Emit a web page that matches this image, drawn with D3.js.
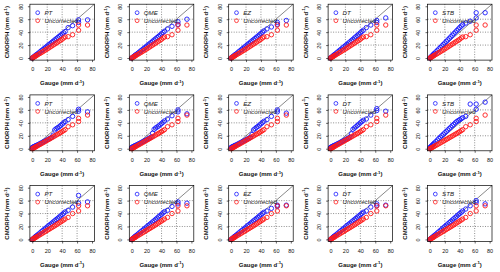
<!DOCTYPE html>
<html>
<head>
<meta charset="utf-8">
<script src="https://cdn.jsdelivr.net/npm/d3@7"></script>
<style>
body { margin: 0; background: #fff; }
text { font-family: "Liberation Sans", Arial, sans-serif; }
</style>
</head>
<body>
<svg id="chart" width="500" height="272"></svg>
<script>
const methods = ['PT', 'QME', 'EZ', 'DT', 'STB'];
const ticks = [0, 20, 40, 60, 80];

// gauge quantiles (x), shared by every panel
const gauge = [0, 1, 2, 3, 4, 5, 6, 8, 10, 12, 14, 16, 18, 20, 22, 24, 26, 28, 30, 32, 34, 36, 38, 40, 42, 44, 48, 54, 62, 62, 74];

// CMORPH quantiles before correction, one array per row
const uncorrected = [
    [0, 0.6, 1.3, 2, 2.7, 3.4, 4.1, 5.5, 6.9, 8.3, 9.7, 11.2, 12.6, 14, 15.5, 17, 18.5, 20, 21.5, 23, 24.5, 26, 27.5, 29, 31, 32.5, 33, 36, 43, 51, 51],
    [0, 0.6, 1.2, 1.9, 2.5, 3.2, 3.8, 5.1, 6.4, 7.7, 9, 10.3, 11.6, 13, 14.3, 15.6, 17, 18.3, 19.6, 21, 22.3, 23.6, 25, 26.5, 28, 29.5, 34, 37, 42, 47, 52],
    [0, 0.7, 1.4, 2.1, 2.8, 3.5, 4.2, 5.6, 7, 8.4, 9.8, 11.2, 12.6, 14, 15.4, 16.8, 18.2, 19.6, 21, 22.5, 24, 25.5, 27, 28.5, 30, 31.5, 34, 40, 44, 52, 52]
];

// CMORPH quantiles after correction, per row, in the order of methods
const corrected = [
    [
        [0, 0.9, 1.9, 2.8, 3.7, 4.6, 5.6, 7.4, 9.3, 11.2, 13, 14.9, 16.7, 18.6, 20.5, 22.3, 24.2, 26, 28, 29.8, 31.6, 33.5, 35.4, 37.2, 39, 41, 47, 50, 55, 59, 59],
        [0, 0.9, 1.8, 2.7, 3.6, 4.5, 5.5, 7.3, 9.1, 11, 12.8, 14.7, 16.5, 18.4, 20.3, 22.2, 24, 26, 27.9, 29.8, 31.7, 33.6, 35.5, 37.5, 39.5, 41.5, 45, 49, 52, 56, 60],
        [0, 0.9, 1.9, 2.8, 3.8, 4.7, 5.7, 7.6, 9.5, 11.4, 13.3, 15.2, 17, 18.9, 20.8, 22.7, 24.6, 26.5, 28.4, 30.3, 32.2, 34, 36, 38, 40, 42, 45, 48, 52, 55, 58],
        [0, 1, 2, 3, 3.9, 4.9, 5.9, 7.8, 9.8, 11.7, 13.6, 15.5, 17.4, 19.3, 21.2, 23.1, 25, 27, 29, 31, 33, 35, 37, 39, 41, 43, 47, 51, 55, 58, 62],
        [0, 1.2, 2.4, 3.6, 4.8, 6, 7.2, 9.5, 11.8, 14.1, 16.4, 18.7, 21, 23.3, 25.7, 28, 30.4, 32.8, 35.2, 37.6, 40, 42.4, 44.8, 47.2, 49.5, 51.5, 54, 57, 62, 70, 70]
    ],
    [
        [2, 2.5, 3, 3.6, 4.2, 4.8, 5.4, 6.6, 7.8, 9, 10.2, 11.4, 12.6, 13.8, 15, 16.2, 17.5, 21, 29, 31, 32.5, 34, 36, 38, 40, 42, 45, 50, 58, 61, 57],
        [2, 2.6, 3.2, 3.8, 4.4, 5, 5.6, 6.8, 8, 9.2, 10.4, 11.6, 12.8, 14, 15.3, 16.6, 18, 24, 30, 32, 33.5, 35, 37, 39, 41, 43, 46, 51, 57, 60, 54],
        [2, 2.5, 3.1, 3.7, 4.3, 4.9, 5.5, 6.7, 7.9, 9.1, 10.3, 11.5, 12.7, 13.9, 15.1, 16.4, 17.7, 22, 29, 31, 33, 34.5, 36.5, 38.5, 40.5, 42.5, 45, 50, 57, 60, 55],
        [2, 2.6, 3.2, 3.8, 4.4, 5, 5.6, 6.8, 8, 9.2, 10.4, 11.6, 12.8, 14, 15.3, 16.6, 18, 23, 30, 32, 34, 36, 38, 40, 42, 44, 46, 52, 59, 62, 58],
        [2, 3, 4, 5.2, 6.4, 7.6, 8.8, 11, 13.4, 15.8, 18, 20.2, 22.4, 24.6, 26.8, 29, 31.2, 33.4, 35.6, 37.8, 40, 42, 43.5, 45, 46.5, 48, 50, 69, 61, 69, 72]
    ],
    [
        [0, 1, 2, 3, 4, 5, 6, 7.9, 9.8, 11.8, 13.7, 15.6, 17.5, 19.4, 21.3, 23.2, 25.1, 27, 28.9, 30.8, 32.7, 34.6, 36.5, 38.5, 40.5, 42.5, 45, 50, 56, 68, 58],
        [0, 1, 2, 3, 4, 5, 6, 8, 9.9, 11.8, 13.7, 15.6, 17.5, 19.4, 21.3, 23.2, 25.1, 27, 29, 31, 33, 35, 37, 39, 41, 43, 45, 51, 55, 58, 56],
        [0, 0.9, 1.9, 2.9, 3.9, 4.9, 5.8, 7.8, 9.7, 11.6, 13.5, 15.4, 17.3, 19.2, 21.1, 23, 24.9, 26.8, 28.7, 30.6, 32.5, 34.4, 36.3, 38.2, 40.1, 42, 44, 48, 51, 53, 53],
        [0, 1, 2, 3, 4, 5, 6, 7.9, 9.8, 11.7, 13.6, 15.5, 17.4, 19.3, 21.2, 23.1, 25, 26.9, 28.8, 30.7, 32.6, 34.5, 36.4, 38.3, 40.2, 42.1, 44, 50, 52, 55, 53],
        [0, 1, 2, 3, 4, 5, 6, 8, 10, 12, 14, 16, 18, 20, 22, 24, 26, 28, 30, 32, 34, 36, 38, 40, 42, 44, 47, 52, 57, 60, 55]
    ]
];

const svg = d3.select('#chart');
const colPitch = 99.4;
const rowPitch = 90.7;

function unitLabel(sel, name) {
    sel.text(`${name} (mm d`);
    sel.append('tspan').attr('dy', -2.2).style('font-size', '4.3px').text('-1');
    sel.append('tspan').attr('dy', 2.2).text(')');
}

function drawPanel(r, c) {
    const x = d3.scaleLinear().domain([-3.2, 83.2])
        .range([29.9 + c * colPitch, 94.4 + c * colPitch]);
    const y = d3.scaleLinear().domain([-3.2, 83.2])
        .range([60.1 + r * rowPitch, 4.2 + r * rowPitch]);
    const [x0, x1] = x.range();
    const [y0, y1] = y.range();
    const g = svg.append('g');

    // dotted grid
    g.selectAll('.gx').data(ticks.slice(1, 4)).enter().append('line')
        .attr('x1', d => x(d)).attr('x2', d => x(d))
        .attr('y1', y0).attr('y2', y1)
        .attr('stroke', '#444').attr('stroke-width', 0.6).attr('stroke-dasharray', '1,1.5');
    g.selectAll('.gy').data(ticks.slice(1, 4)).enter().append('line')
        .attr('y1', d => y(d)).attr('y2', d => y(d))
        .attr('x1', x0).attr('x2', x1)
        .attr('stroke', '#444').attr('stroke-width', 0.6).attr('stroke-dasharray', '1,1.5');

    // 1:1 line
    g.append('line')
        .attr('x1', x(-3.2)).attr('y1', y(-3.2))
        .attr('x2', x(83.2)).attr('y2', y(83.2))
        .attr('stroke', '#555').attr('stroke-width', 0.7);

    const pts = (vals, colour) => {
        g.append('g').selectAll('circle').data(vals).enter().append('circle')
            .attr('cx', (d, i) => x(gauge[i]))
            .attr('cy', d => y(d))
            .attr('r', 2.2)
            .attr('fill', 'none')
            .attr('stroke', colour)
            .attr('stroke-width', 0.9);
    };
    pts(corrected[r][c], '#1a1aff');
    pts(uncorrected[r], '#ff1a1a');

    // box
    g.append('rect')
        .attr('x', x0).attr('y', y1)
        .attr('width', x1 - x0).attr('height', y0 - y1)
        .attr('fill', 'none').attr('stroke', '#000').attr('stroke-width', 0.7);

    // axes
    const xAxis = g.append('g')
        .attr('transform', `translate(0,${y0})`)
        .call(d3.axisBottom(x).tickValues(ticks).tickSize(2).tickPadding(5.5));
    const yAxis = g.append('g')
        .attr('transform', `translate(${x0},0)`)
        .call(d3.axisLeft(y).tickValues(ticks).tickSize(2));
    [xAxis, yAxis].forEach(a => {
        a.select('.domain').remove();
        a.selectAll('line').attr('stroke-width', 0.6);
        a.selectAll('text').style('font-size', '5.5px').attr('fill', '#111');
    });
    yAxis.selectAll('text')
        .attr('transform', 'rotate(-90)')
        .attr('x', 0).attr('y', -7.2).attr('dy', 0)
        .attr('text-anchor', 'middle');

    // axis titles
    g.append('text')
        .attr('x', (x0 + x1) / 2).attr('y', y0 + 25)
        .attr('text-anchor', 'middle')
        .style('font-size', '6px').style('font-weight', 'bold').attr('fill', '#111')
        .call(unitLabel, 'Gauge');
    g.append('text')
        .attr('transform', `translate(${x0 - 20.5},${(y0 + y1) / 2}) rotate(-90)`)
        .attr('text-anchor', 'middle')
        .style('font-size', '6px').style('font-weight', 'bold').attr('fill', '#111')
        .call(unitLabel, 'CMORPH');

    // legend
    const legend = [[methods[c], '#1a1aff'], ['Uncorrected', '#ff1a1a']];
    legend.forEach(([label, colour], i) => {
        g.append('circle')
            .attr('cx', x0 + 7.8).attr('cy', y1 + 8.5 + i * 8)
            .attr('r', 1.9).attr('fill', 'none')
            .attr('stroke', colour).attr('stroke-width', 0.8);
        g.append('text')
            .attr('x', x0 + 14.5).attr('y', y1 + 10.6 + i * 8)
            .style('font-size', '6.2px').style('font-style', 'italic')
            .attr('fill', '#222')
            .text(label);
    });
}

corrected.forEach((row, r) => row.forEach((d, c) => drawPanel(r, c)));
</script>
</body>
</html>
